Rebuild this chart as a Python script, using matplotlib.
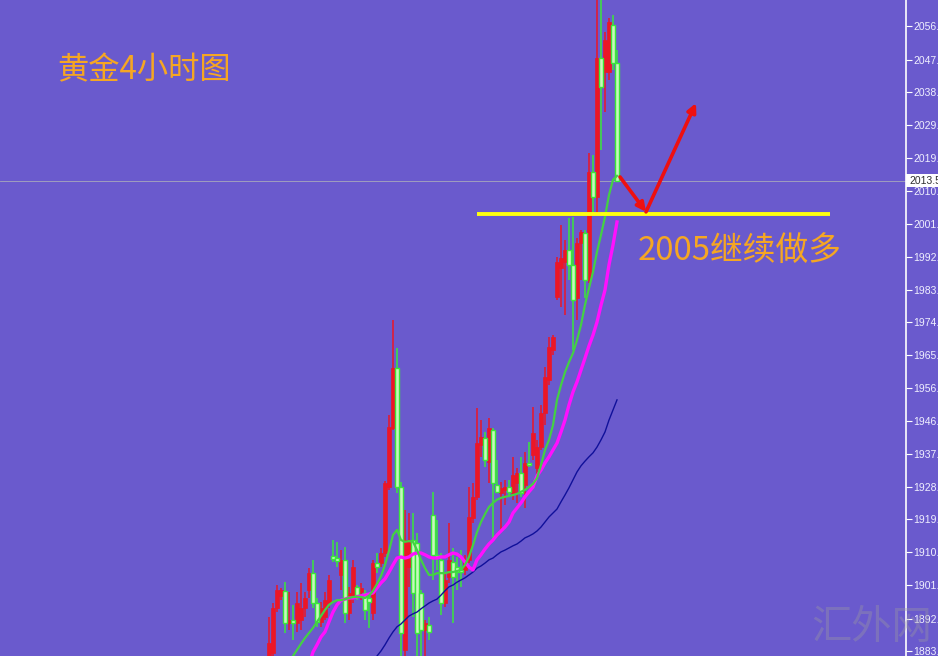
import matplotlib
matplotlib.use('Agg')
import matplotlib.pyplot as plt
from matplotlib.patches import Rectangle
import numpy as np

plt.rcParams['font.family'] = ['Noto Sans CJK SC', 'DejaVu Sans']

# ---- candle data (4H gold) ----
opens = [1880.5,1882.5,1894.9,1898.3,1899.7,1890.8,1891.6,1890.8,1891.6,1894.9,
         1899.9,1904.6,1896.3,1891.1,1892.4,1896.3,1909.4,1908.8,1904.1,1908.3,
         1893.6,1898.0,1900.8,1899.4,1899.1,1897.7,1893.6,1907.4,1907.4,1910.2,
         1928.5,1944.9,1961.6,1928.5,1883.3,1906.3,1913.8,1913.0,1899.1,1888.8,
         1890.2,1920.8,1909.7,1908.3,1896.3,1903.5,1907.7,1906.3,1905.5,1905.5,
         1908.3,1919.9,1925.8,1940.2,1942.1,1935.5,1944.3,1929.1,1926.9,1927.7,
         1928.5,1926.9,1929.6,1932.4,1929.1,1935.2,1937.4,1933.8,1939.6,1949.1,
         1958.2,1966.6,1981.3,1989.3,1991.0,1994.3,1990.2,1981.0,1996.3,1999.0,
         1986.0,2016.0,2009.0,2047.6,2043.7,2043.7,2056.8,2046.2]
closes = [1885.2,1894.9,1899.9,1899.9,1890.8,1891.6,1890.8,1896.3,1894.9,1897.7,
          1904.6,1896.3,1891.1,1894.9,1897.1,1902.7,1908.5,1908.0,1908.3,1893.6,
          1899.1,1906.3,1898.5,1900.5,1894.4,1896.6,1907.4,1906.3,1910.2,1929.6,
          1945.2,1961.6,1928.5,1888.0,1913.8,1913.8,1899.1,1888.0,1888.8,1890.8,
          1888.3,1909.7,1908.8,1896.3,1902.7,1908.3,1903.5,1904.9,1904.9,1908.3,
          1920.2,1925.8,1940.7,1942.4,1936.0,1944.9,1929.6,1927.2,1928.3,1928.5,
          1927.2,1931.9,1932.4,1926.9,1935.2,1934.6,1943.5,1939.6,1949.1,1959.1,
          1967.4,1970.2,1991.0,1992.1,1994.3,1990.2,1980.4,1996.3,1999.3,1986.0,
          2016.0,2009.0,2047.6,2039.6,2052.6,2057.6,2046.2,2013.5]
highs = [1892.4,1896.3,1901.3,1900.5,1902.1,1899.4,1895.8,1899.4,1901.9,1899.4,
         1906.0,1908.3,1897.7,1896.6,1899.4,1904.1,1913.8,1913.3,1911.0,1911.9,
         1900.8,1908.3,1901.3,1901.9,1899.9,1898.3,1908.3,1910.2,1911.6,1930.2,
         1948.5,1974.9,1967.1,1929.9,1922.2,1921.3,1921.3,1915.8,1899.9,1891.6,
         1892.4,1927.2,1919.4,1910.2,1904.6,1918.5,1911.6,1909.1,1911.0,1909.7,
         1928.5,1929.6,1950.5,1947.1,1943.8,1947.7,1944.9,1936.0,1929.9,1930.5,
         1930.5,1936.9,1933.8,1936.9,1938.2,1941.0,1950.7,1941.6,1951.3,1961.8,
         1970.2,1970.7,1992.4,2001.3,1997.1,2003.2,2003.5,1997.7,1999.9,1999.9,
         2021.2,2020.7,2066.0,2066.0,2054.8,2058.7,2059.6,2049.8]
lows = [1880.0,1881.0,1893.8,1897.1,1888.0,1888.8,1886.1,1888.3,1888.8,1892.4,
        1897.7,1894.9,1889.7,1889.7,1891.6,1894.9,1907.7,1906.3,1899.9,1890.8,
        1891.6,1896.3,1897.1,1897.1,1891.6,1889.4,1891.6,1904.6,1906.3,1909.1,
        1927.7,1944.3,1926.9,1880.0,1880.0,1900.8,1892.4,1880.0,1880.0,1880.0,
        1886.1,1902.7,1905.5,1893.0,1895.2,1901.9,1890.8,1899.9,1900.8,1904.1,
        1907.4,1918.5,1925.0,1936.9,1934.1,1929.6,1913.8,1926.9,1916.6,1923.5,
        1925.8,1925.0,1924.1,1925.8,1922.7,1934.1,1936.0,1931.9,1938.8,1945.7,
        1956.8,1965.2,1980.4,1978.5,1976.3,1986.0,1966.6,1974.9,1986.0,1981.0,
        1985.2,2004.6,2004.6,2022.1,2032.6,2041.5,2044.3,2013.2]

# ---- moving averages ----
ma_fast_start = 5
ma_fast = [1879.1,1881.6,1883.3,1885.0,1886.6, 1888.0,1889.4,1891.1,1892.7,1894.4,
           1895.8,1896.6,1897.1,1897.1,1897.4, 1897.7,1898.0,1898.0,1898.0,1897.7,
           1898.3,1899.7,1901.6,1903.8,1906.9, 1910.8,1915.2,1916.6,1913.8,1913.3,
           1913.5,1913.3,1911.0,1908.3,1906.0, 1904.1,1904.1,1904.6,1904.6,1904.6,
           1904.9,1904.9,1905.2,1905.5,1906.9, 1909.1,1912.4,1916.0,1918.8,1921.0,
           1923.0,1924.1,1925.0,1925.5,1925.8, 1926.0,1926.3,1926.6,1927.2,1927.7,
           1928.5,1929.4,1931.0,1934.6,1938.8, 1941.6,1945.7,1952.7,1956.8,1960.4,
           1963.2,1965.7,1969.3,1973.5,1979.1, 1983.7,1988.2,1993.8,1998.5,2003.5,
           2009.6,2013.8,2014.9]
ma_mid_start = 10
ma_mid = [1879.1,1882.7,1884.7,1886.9,1888.3, 1891.1,1893.8,1895.8,1897.1,1897.4,
          1897.7,1897.7,1898.0,1898.3,1898.5, 1898.8,1899.1,1900.5,1901.9,1903.0,
          1904.9,1906.9,1908.8,1909.1,1908.8, 1909.1,1909.9,1910.2,1910.2,1909.7,
          1909.1,1908.8,1908.8,1909.1,1909.1, 1909.7,1910.2,1909.9,1909.1,1907.7,
          1906.3,1905.5,1908.3,1909.7,1911.3, 1912.7,1913.8,1915.2,1916.3,1917.4,
          1918.8,1921.3,1922.7,1924.1,1925.8, 1927.2,1928.5,1931.6,1933.2,1935.2,
          1936.9,1938.8,1940.7,1943.8,1947.1, 1951.3,1954.9,1957.7,1961.0,1964.3,
          1967.7,1970.7,1974.3,1979.0,1983.2, 1990.2,1995.7,2002.1]
ma_slow_start = 26
ma_slow = [1880.0,1881.6,1883.0,1884.7,
           1886.6,1888.3,1889.7,1890.5,1891.6, 1892.7,1893.3,1893.8,1894.7,1895.5,
           1896.3,1896.9,1897.4,1898.5,1899.7, 1900.8,1901.3,1902.1,1902.7,1903.3,
           1904.1,1904.9,1906.0,1906.6,1907.4, 1908.3,1908.8,1909.7,1910.5,1911.0,
           1911.6,1912.2,1912.7,1913.5,1914.4, 1914.9,1915.5,1916.3,1917.4,1918.8,
           1920.2,1921.3,1922.4,1924.4,1926.3, 1928.3,1930.5,1932.7,1934.4,1935.7,
           1936.9,1938.0,1939.6,1941.6,1943.8, 1947.1,1949.9,1952.7]

price_ticks = [2056.5, 2047.1, 2038.1, 2029.0, 2019.9, 2010.8, 2001.5, 1992.4, 1983.3,
               1974.3, 1965.2, 1956.1, 1946.8, 1937.7, 1928.6, 1919.5, 1910.5, 1901.4,
               1892.0, 1883.0]
current_price = 2013.5
support_level = 2004.3
support_span = [52.0, 140.25]
arrow_pts_x = [87.75, 94.25, 106.75]
arrow_pts_y = [2014.6, 2004.9, 2035.1]

title_text = '黄金4小时图'
call_text = '2005继续做多'
watermark = '汇外网'

BG = '#6a5acd'
W, H = 938, 656
fig = plt.figure(figsize=(W / 100, H / 100), dpi=100, facecolor=BG)
ax = fig.add_axes([0, 0, 906 / W, 1])
ax.set_facecolor(BG)

x = np.arange(len(opens))
o = np.array(opens); c = np.array(closes)
hi = np.array(highs); lo = np.array(lows)
up = c >= o

RED = '#ec1626'
GRN = '#3ae83a'
# wicks
ax.vlines(x[up], lo[up], hi[up], color=RED, lw=1.1, zorder=2)
ax.vlines(x[~up], lo[~up], hi[~up], color=GRN, lw=1.1, zorder=2)
# bodies
bw = 0.8
h_up = np.maximum(c[up] - o[up], 0.6)
ax.bar(x[up], h_up, bottom=o[up], width=bw, color=RED, edgecolor=RED, lw=0.5, zorder=3)
h_dn = np.maximum(o[~up] - c[~up], 0.6)
ax.bar(x[~up], h_dn, bottom=c[~up], width=bw, color='#c8f8bc', edgecolor=GRN,
       lw=1.0, zorder=3)

# moving averages
ax.plot(np.arange(ma_slow_start, ma_slow_start + len(ma_slow)), ma_slow,
        color='#10109a', lw=1.0, zorder=4)
ax.plot(np.arange(ma_mid_start, ma_mid_start + len(ma_mid)), ma_mid,
        color='#ff10ff', lw=2.4, zorder=4)
ax.plot(np.arange(ma_fast_start, ma_fast_start + len(ma_fast)), ma_fast,
        color='#44d044', lw=1.6, zorder=5)

# current price line
ax.axhline(current_price, color='#a8a8bc', lw=0.6, zorder=1)

# support line
ax.hlines(support_level, support_span[0], support_span[1], color='#ffff10', lw=2.8, zorder=6)

# arrows
arrow_kw = dict(arrowstyle='-|>', color='#ee1010', lw=2.6, mutation_scale=13,
                shrinkA=0, shrinkB=0)
ax.annotate('', xy=(arrow_pts_x[1], arrow_pts_y[1]),
            xytext=(arrow_pts_x[0], arrow_pts_y[0]), arrowprops=arrow_kw, zorder=7)
ax.annotate('', xy=(arrow_pts_x[2], arrow_pts_y[2]),
            xytext=(arrow_pts_x[1], arrow_pts_y[1]), arrowprops=arrow_kw, zorder=7)

# axes scales
ax.set_xlim(-269 / 4, (906 - 269) / 4)
ax.set_ylim(1881.6, 2063.72)
ax.set_xticks([])
ax.yaxis.tick_right()
ax.set_yticks(price_ticks)
ax.set_yticklabels([f'{v:.1f}' for v in price_ticks], family='Liberation Sans')
ax.tick_params(axis='y', colors='white', length=4, width=0.8, pad=1.5,
               labelsize=7.5, labelcolor='#f0f0ff')
for s in ['left', 'top', 'bottom']:
    ax.spines[s].set_visible(False)
ax.spines['right'].set_color('white')
ax.spines['right'].set_linewidth(1.2)

# current price label
fig.patches.append(Rectangle((906 / W, 1 - 187 / H), 32 / W, 13 / H,
                             transform=fig.transFigure, facecolor='white',
                             edgecolor='none', zorder=10))
fig.text(909 / W, 1 - 180.5 / H, f'{current_price:.1f}', color='#303030',
         fontsize=7.5, family='Liberation Sans', va='center', ha='left', zorder=11)

# texts
fig.text(57 / W, 1 - 70 / H, title_text, color='#f5a623', fontsize=22.5,
         va='center', ha='left')
fig.text(638 / W, 1 - 251 / H, call_text, color='#f5a623', fontsize=23.6,
         va='center', ha='left')
fig.text(872 / W, 1 - 628 / H, watermark, color=(0.62, 0.62, 0.62), alpha=0.35,
         fontsize=29, va='center', ha='center', fontweight='light')

fig.savefig('out.png', dpi=100, facecolor=BG)
